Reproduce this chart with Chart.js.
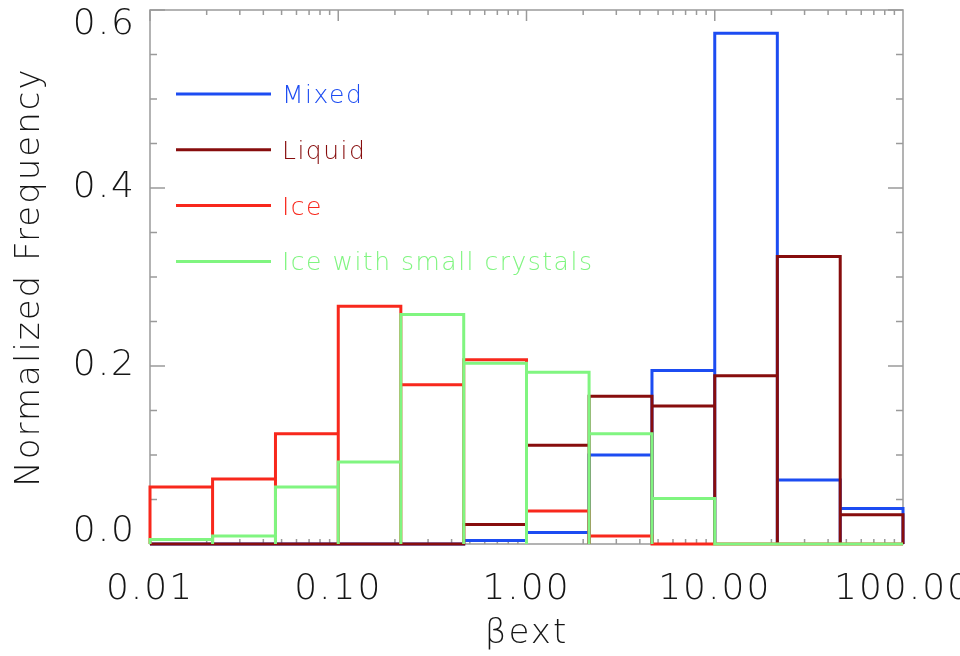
<!DOCTYPE html>
<html>
<head>
<meta charset="utf-8">
<script src="https://cdn.jsdelivr.net/npm/chart.js@4.4.1/dist/chart.umd.min.js"></script>
<style>
  html, body { margin: 0; padding: 0; background: #fff; }
</style>
</head>
<body>
<canvas id="chart" width="960" height="656"></canvas>
<script>
// bin edges (log-spaced, 3 per decade) and normalized frequency per bin
const BIN_EDGES = [0.01, 0.0215, 0.0464, 0.1, 0.215, 0.464, 1, 2.15, 4.64, 10, 21.5, 46.4, 100];
const SERIES_NAMES = ["Mixed", "Liquid", "Ice", "Ice with small crystals"];
const SERIES_COLORS = ["#1c4cf2", "#870d0d", "#f8281c", "#80f580"];
const MIXED = [0, 0, 0, 0, 0, 0.004, 0.013, 0.100, 0.195, 0.574, 0.072, 0.040];
const LIQUID = [0, 0, 0, 0, 0, 0.022, 0.111, 0.166, 0.155, 0.189, 0.323, 0.033];
const ICE = [0.064, 0.073, 0.124, 0.267, 0.179, 0.207, 0.037, 0.009, 0, 0, 0, 0];
const ICE_SMALL = [0.005, 0.009, 0.064, 0.092, 0.258, 0.203, 0.193, 0.124, 0.051, 0, 0, 0];

const X_TICKS = [0.01, 0.1, 1, 10, 100];
const X_TICK_LABELS = ["0.01", "0.10", "1.00", "10.00", "100.00"];
const Y_TICKS = [0, 0.2, 0.4, 0.6];
const Y_TICK_LABELS = ["0.0", "0.2", "0.4", "0.6"];
const Y_MINOR_STEP = 0.05;

const FONT = "'DejaVu Sans', sans-serif";
const TEXT_COLOR = "#161616";
const AXIS_COLOR = "#9a9a9a";

// IDL-style histogram outline: up at the left edge, across, down at the right edge
function histogramOutline(values) {
  const pts = [];
  values.forEach((v, i) => {
    const a = BIN_EDGES[i];
    const b = BIN_EDGES[i + 1];
    pts.push({ x: a, y: 0 }, { x: a, y: v }, { x: b, y: v }, { x: b, y: 0 });
  });
  return pts;
}

const seriesValues = [MIXED, LIQUID, ICE, ICE_SMALL];

const idlAxes = {
  id: "idlAxes",
  beforeDraw(chart) {
    chart.ctx.letterSpacing = "2px";
  },
  beforeDatasetsDraw(chart) {
    const { ctx, chartArea: a, scales: { x, y } } = chart;
    ctx.save();
    ctx.strokeStyle = AXIS_COLOR;
    ctx.lineWidth = 1.5;
    ctx.strokeRect(a.left, a.top, a.right - a.left, a.bottom - a.top);
    ctx.beginPath();
    // x ticks, bottom and top, pointing inward
    for (let d = 0.01; d < 100; d *= 10) {
      for (let m = 1; m <= 9; m++) {
        const px = x.getPixelForValue(d * m);
        const len = m === 1 ? 11 : 5;
        ctx.moveTo(px, a.bottom); ctx.lineTo(px, a.bottom - len);
        ctx.moveTo(px, a.top); ctx.lineTo(px, a.top + len);
      }
    }
    // y ticks, left and right
    for (let k = 0; k <= 12; k++) {
      const v = k * Y_MINOR_STEP;
      const py = y.getPixelForValue(v);
      const len = k % 4 === 0 ? 15 : 7;
      ctx.moveTo(a.left, py); ctx.lineTo(a.left + len, py);
      ctx.moveTo(a.right, py); ctx.lineTo(a.right - len, py);
    }
    ctx.stroke();
    ctx.restore();
  },
  afterDraw(chart) {
    const { ctx, chartArea: a, scales: { y } } = chart;
    ctx.save();
    ctx.letterSpacing = "2px";
    ctx.font = `200 36px ${FONT}`;
    ctx.fillStyle = TEXT_COLOR;
    ctx.textAlign = "right";
    ctx.textBaseline = "middle";
    Y_TICKS.forEach((v, i) => {
      let py = y.getPixelForValue(v);
      py = Math.min(Math.max(py, a.top + 15), a.bottom - 12);
      ctx.fillText(Y_TICK_LABELS[i], a.left - 14, py);
    });
    // legend inside the plot
    ctx.letterSpacing = "1.5px";
    ctx.textAlign = "left";
    ctx.textBaseline = "alphabetic";
    ctx.font = `200 25px ${FONT}`;
    SERIES_NAMES.forEach((name, i) => {
      const ly = a.top + 84 + i * 55.8;
      ctx.strokeStyle = SERIES_COLORS[i];
      ctx.lineWidth = 3;
      ctx.beginPath();
      ctx.moveTo(a.left + 26, ly);
      ctx.lineTo(a.left + 121, ly);
      ctx.stroke();
      ctx.fillStyle = SERIES_COLORS[i];
      ctx.fillText(name, a.left + 132, ly + 9);
    });
    ctx.restore();
  },
};

new Chart(document.getElementById("chart"), {
  type: "line",
  data: {
    datasets: SERIES_NAMES.map((name, i) => ({
      label: name,
      data: histogramOutline(seriesValues[i]),
      borderColor: SERIES_COLORS[i],
      borderWidth: 3,
      pointRadius: 0,
      tension: 0,
      fill: false,
      clip: 4,
      order: SERIES_NAMES.length - 1 - i,
    })),
  },
  options: {
    responsive: false,
    animation: false,
    devicePixelRatio: 1,
    layout: { padding: { top: 10, right: 57, left: 0, bottom: 0 } },
    plugins: { legend: { display: false }, tooltip: { enabled: false } },
    scales: {
      x: {
        type: "logarithmic",
        min: 0.01,
        max: 100,
        offset: false,
        grid: { display: false },
        border: { display: false },
        afterBuildTicks: (s) => { s.ticks = X_TICKS.map((v) => ({ value: v })); },
        afterFit: (s) => { s.paddingLeft = 0; s.paddingRight = 0; s.height = 112; },
        ticks: {
          autoSkip: false,
          maxRotation: 0,
          padding: 16,
          color: TEXT_COLOR,
          font: { family: FONT, size: 36, weight: "200" },
          callback: (v, i) => X_TICK_LABELS[i],
        },
        title: {
          display: true,
          text: "βext",
          color: TEXT_COLOR,
          font: { family: FONT, size: 34, weight: "200" },
          padding: { top: 0, bottom: 1 },
        },
      },
      y: {
        min: 0,
        max: 0.6,
        grid: { display: false },
        border: { display: false },
        ticks: { display: false },
        afterFit: (s) => { s.width = 150; s.paddingTop = 0; s.paddingBottom = 0; },
        title: {
          display: true,
          text: "Normalized Frequency",
          color: TEXT_COLOR,
          font: { family: FONT, size: 34, weight: "200" },
          padding: { top: 10 },
        },
      },
    },
  },
  plugins: [idlAxes],
});
</script>
</body>
</html>
